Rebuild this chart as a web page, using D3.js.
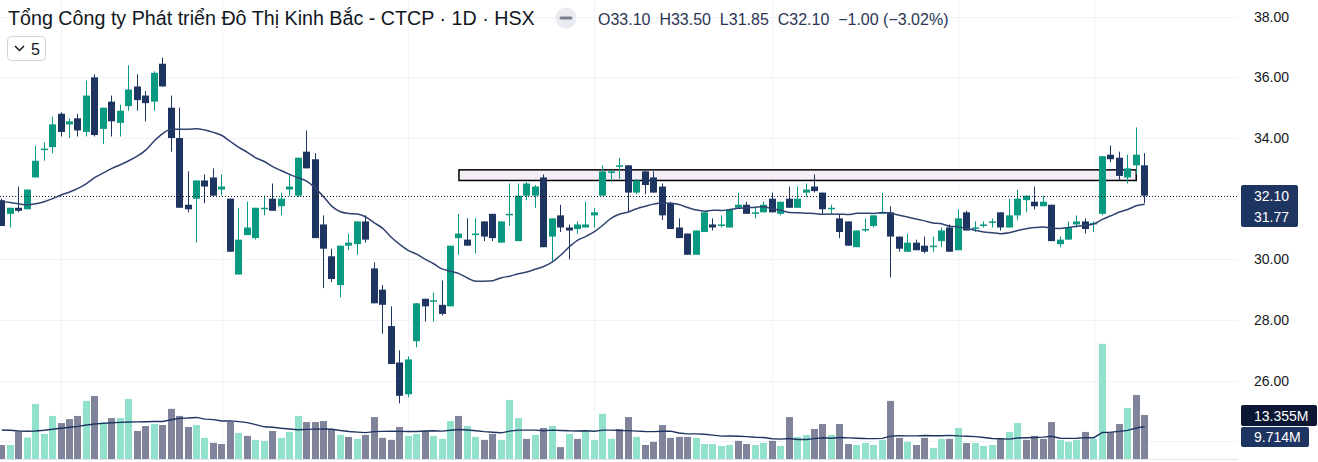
<!DOCTYPE html>
<html>
<head>
<meta charset="utf-8">
<script src="https://cdn.jsdelivr.net/npm/d3@7"></script>
<style>
html, body { margin: 0; padding: 0; background: #fff; overflow: hidden; }
svg { display: block; font-family: "Liberation Sans", Arial, sans-serif; }
</style>
</head>
<body>
<svg id="chart" width="1318" height="462"></svg>
<script>
// daily candles, oldest first (price in thousand VND)
var opens = [31.95,31.5,31.7,31.65,32.7,33.6,33.7,34.8,34.45,34.65,34.2,36.0,34.3,35.2,34.5,35.05,35.7,35.4,35.2,36.45,
  35.0,34.0,31.8,32.0,32.6,32.7,32.3,32.0,29.5,30.8,30.7,31.65,32.0,31.75,32.3,32.1,33.55,33.3,31.15,30.1,
  29.15,30.45,30.5,31.25,29.7,29.0,27.8,26.6,25.55,27.3,28.7,28.6,28.5,28.45,30.7,30.65,30.8,31.25,31.5,30.55,
  31.45,30.6,32.1,32.1,32.7,30.75,31.45,31.05,31.0,31.05,31.45,32.1,32.85,33.05,33.1,32.2,32.9,32.7,32.4,31.85,
  31.05,30.85,30.15,30.9,31.15,31.1,31.05,31.7,31.8,31.5,31.55,32.0,31.5,32.0,31.7,32.2,32.4,32.2,31.65,31.35,
  31.25,30.4,30.95,31.1,31.5,31.55,30.75,30.25,30.55,30.45,30.4,30.6,31.05,30.3,31.55,31.0,31.1,31.2,31.55,31.05,
  31.45,31.95,31.9,31.75,31.8,30.5,30.65,31.15,31.25,31.15,31.5,33.45,33.35,32.7,33.1,33.1];
var highs = [32.0,31.7,32.4,32.3,33.75,33.85,34.7,34.85,34.65,34.8,35.9,36.1,35.0,35.4,35.1,36.4,36.1,35.55,36.2,36.65,
  35.4,35.0,32.9,32.6,32.8,33.0,32.8,32.0,31.7,31.9,31.7,32.1,32.5,32.2,32.8,33.35,34.25,33.5,31.45,30.35,
  30.45,30.85,31.25,31.45,29.9,29.15,28.45,27.0,26.8,28.55,28.7,28.9,29.3,30.45,31.5,31.35,31.35,31.25,31.5,31.25,
  32.5,32.5,32.55,32.45,32.8,31.35,31.8,31.15,31.25,31.9,31.7,33.1,32.95,33.35,33.1,32.65,32.9,32.9,32.5,31.9,
  31.35,30.85,30.95,31.55,31.35,31.45,31.65,32.2,31.9,31.7,31.9,32.2,31.9,32.4,32.4,32.5,32.8,32.2,31.8,31.5,
  31.25,30.95,31.35,31.45,32.2,31.75,30.75,30.85,30.65,30.75,30.75,31.05,31.15,31.65,31.6,31.25,31.25,31.35,31.55,32.0,
  32.3,32.1,32.4,32.1,31.8,30.75,31.25,31.45,31.35,31.25,33.4,33.75,33.55,33.45,34.35,33.5];
var lows = [31.1,31.05,31.55,31.65,32.7,33.25,33.5,34.05,34.0,34.05,34.05,34.05,33.8,34.05,34.05,34.9,34.9,34.55,34.9,35.7,
  33.55,31.7,31.55,30.55,31.85,32.1,32.1,30.25,29.5,30.8,30.65,31.45,31.6,31.45,32.1,32.05,33.0,30.7,29.05,29.25,
  28.75,30.3,30.15,30.55,28.55,27.55,26.55,25.25,25.45,27.1,27.95,27.95,28.15,28.45,30.15,30.45,30.2,30.6,30.6,30.55,
  31.1,30.6,31.95,31.7,30.4,29.95,30.9,30.0,30.85,31.05,31.05,32.1,32.55,32.65,31.55,32.15,32.15,32.2,31.3,31.0,
  30.7,30.15,30.15,30.9,30.95,31.05,31.05,31.7,31.5,31.35,31.55,31.55,31.45,31.7,31.7,32.05,32.2,31.5,31.5,30.7,
  30.45,30.4,30.9,31.05,31.5,29.4,30.25,30.25,30.3,30.2,30.25,30.4,30.25,30.3,30.95,30.9,31.05,31.05,30.95,31.05,
  31.3,31.55,31.65,31.75,30.6,30.4,30.65,31.05,30.85,30.9,31.45,33.2,32.6,32.5,32.8,31.85];
var closes = [31.1,31.7,31.6,32.3,33.25,33.65,34.45,34.2,34.55,34.25,35.4,34.1,35.0,34.55,34.9,35.6,35.25,35.15,36.15,35.7,
  34.0,31.7,31.65,32.6,32.4,32.1,32.4,30.25,30.65,31.05,31.7,31.7,31.6,32.0,32.4,33.35,33.0,30.7,30.35,29.35,
  30.45,30.55,31.25,30.65,28.55,28.5,26.55,25.5,26.7,28.55,28.45,28.65,28.2,30.45,30.85,30.45,30.85,30.75,30.7,31.25,
  31.5,32.1,32.5,32.4,30.4,31.35,31.05,30.95,31.15,31.15,31.55,32.9,32.9,33.1,32.2,32.6,32.45,32.2,31.45,31.0,
  30.7,30.15,30.95,31.55,31.05,31.15,31.65,31.8,31.5,31.55,31.8,31.55,31.9,31.7,32.0,32.3,32.25,31.65,31.7,30.9,
  30.45,30.95,31.0,31.45,31.55,30.75,30.35,30.55,30.3,30.25,30.45,30.95,30.25,31.35,30.95,31.05,31.15,31.25,31.05,31.45,
  32.0,32.1,31.75,31.9,30.6,30.65,31.05,31.25,31.0,31.2,33.4,33.3,32.75,33.0,33.45,32.1];
// volume in millions of shares, and its bar colour (1 = light/up)
var volumes = [4.25,4.25,8.3,6.5,16.7,7.6,13.05,10.9,12.1,13.05,17.6,19.1,11.2,12.4,12.4,18.2,8.5,10.0,10.6,10.3,
  15.2,13.05,9.7,10.3,6.4,4.9,4.55,11.2,7.9,7.0,5.8,5.5,8.5,6.4,8.2,13.05,11.2,11.2,11.5,9.1,
  7.3,6.7,6.1,7.3,12.7,6.4,5.8,9.7,7.0,7.6,8.5,7.0,6.1,11.5,13.05,10.0,6.7,5.8,7.6,5.8,
  17.9,12.4,6.1,7.3,9.4,10.0,3.6,7.6,6.1,8.5,5.8,13.7,6.1,9.1,12.7,6.7,4.25,5.2,10.3,6.4,
  6.7,6.7,6.4,4.55,4.55,3.95,4.25,5.5,4.55,4.25,4.85,5.5,3.95,12.7,6.7,7.3,9.1,10.6,7.3,10.6,
  4.55,4.25,4.85,4.25,5.8,17.6,6.4,5.2,4.25,6.4,3.35,6.1,6.1,9.4,4.85,4.85,3.95,4.25,6.1,8.2,
  10.9,5.8,7.0,6.1,11.2,5.8,5.2,5.8,8.2,6.1,34.9,8.2,10.6,15.5,19.4,13.355];
var volUp = [0,1,0,1,1,1,1,0,0,0,1,0,1,0,1,1,0,0,1,0,
  0,0,0,1,1,0,0,0,1,0,1,1,0,1,1,1,0,0,0,0,
  1,0,1,0,0,0,0,0,1,1,0,1,1,1,0,1,1,0,0,1,
  1,1,0,1,0,1,0,1,0,1,1,1,1,0,0,1,0,0,0,0,
  0,0,1,1,1,1,1,0,0,1,1,0,1,0,1,1,0,0,1,0,
  0,1,1,1,1,0,0,1,0,0,1,1,0,1,0,1,1,1,0,1,
  1,0,0,0,0,1,1,1,0,1,1,0,0,1,0,0];
// MA 20 values before a full window is on screen
var maHead = [31.92,31.87,31.83,31.8,31.83,31.9,32.0,32.12,32.22,32.34,32.5,32.7,32.85,33.0,33.12,33.25,33.4,33.6,33.9];
var volMaHead = [8.8,8.7,8.5,8.4,8.5,8.7,9.0,9.3,9.6,9.9,10.3,10.6,10.8,11.0,11.1,11.2,11.25,11.3,11.35];
// values printed on the scale tags
var maLast = 31.77, volMaLast = 9.714;

var priceTicks = [26, 28, 30, 34, 36, 38];
var gridTicks = [24, 26, 28, 30, 32, 34, 36, 38];
var monthStarts = [7, 26, 48, 70, 91, 113, 129];
var zone = {from: 54, to: 134, lo: 32.6, hi: 32.95};
var title = "Tổng Công ty Phát triển Đô Thị Kinh Bắc - CTCP · 1D · HSX";
var ohlcText = "O33.10  H33.50  L31.85  C32.10  −1.00 (−3.02%)";
var lastPrice = 32.10;

var upCol = "#089981", downCol = "#1f3561";
var volUpCol = "#92e1cc", volDownCol = "#80849a";

var svg = d3.select("#chart");
var W = 1318, H = 462, plotRight = 1238;

var x = d3.scaleLinear().domain([0, closes.length - 1]).range([1.8, 1144.7]);
var y = d3.scaleLinear().domain([24, 38]).range([441.3, 16.7]);
var yv = d3.scaleLinear().domain([0, 40]).range([459, 459 - 40 * 3.3]);

var data = closes.map(function(c, i) {
  return {i: i, o: opens[i], h: highs[i], l: lows[i], c: c, v: volumes[i], vu: volUp[i]};
});
var maPrice = closes.map(function(c, i) {
  return i < 19 ? maHead[i] : d3.mean(closes.slice(i - 19, i + 1));
});
var maVol = volumes.map(function(v, i) {
  return i < 19 ? volMaHead[i] : d3.mean(volumes.slice(i - 19, i + 1));
});

//grid
var grid = svg.append("g");
grid.selectAll("line.h").data(gridTicks).enter().append("line")
  .attr("x1", 0).attr("x2", plotRight)
  .attr("y1", function(d) { return Math.round(y(d)) + 0.5; })
  .attr("y2", function(d) { return Math.round(y(d)) + 0.5; })
  .attr("stroke", "#f0f3fa");
grid.selectAll("line.v").data(monthStarts).enter().append("line")
  .attr("y1", 0).attr("y2", 460)
  .attr("x1", function(d) { return Math.round(x(d)) + 0.5; })
  .attr("x2", function(d) { return Math.round(x(d)) + 0.5; })
  .attr("stroke", "#f0f3fa");

//volume
svg.append("g").selectAll("rect").data(data).enter().append("rect")
  .attr("x", function(d) { return Math.round(x(d.i) - 3.5); })
  .attr("width", 7)
  .attr("y", function(d) { return yv(d.v); })
  .attr("height", function(d) { return yv(0) - yv(d.v); })
  .attr("fill", function(d) { return d.vu ? volUpCol : volDownCol; });

svg.append("path")
  .datum(maVol)
  .attr("d", d3.line().x(function(d, i) { return x(i); }).y(function(d) { return yv(d); }))
  .attr("fill", "none").attr("stroke", "#1f3561").attr("stroke-width", 1.4);

// zone box
svg.append("rect")
  .attr("x", x(zone.from)).attr("width", x(zone.to) - x(zone.from))
  .attr("y", y(zone.hi)).attr("height", y(zone.lo) - y(zone.hi))
  .attr("fill", "#f5eef7").attr("stroke", "#000").attr("stroke-width", 1.5);

//candles
var cg = svg.append("g").selectAll("g").data(data).enter().append("g")
  .attr("fill", function(d) { return d.c >= d.o ? upCol : downCol; })
  .attr("stroke", function(d) { return d.c >= d.o ? upCol : downCol; });
cg.append("line")
  .attr("x1", function(d) { return Math.round(x(d.i) - 3.5) + 3.5; })
  .attr("x2", function(d) { return Math.round(x(d.i) - 3.5) + 3.5; })
  .attr("y1", function(d) { return y(d.h); })
  .attr("y2", function(d) { return y(d.l); });
cg.append("rect")
  .attr("stroke", "none")
  .attr("x", function(d) { return Math.round(x(d.i) - 3.5); })
  .attr("width", 7)
  .attr("y", function(d) { return y(Math.max(d.o, d.c)); })
  .attr("height", function(d) { return Math.max(1.5, Math.abs(y(d.o) - y(d.c))); });

svg.append("path")
  .datum(maPrice)
  .attr("d", d3.line().curve(d3.curveMonotoneX).x(function(d, i) { return x(i); }).y(function(d) { return y(d); }))
  .attr("fill", "none").attr("stroke", "#2f4270").attr("stroke-width", 1.5);

// last price line
svg.append("line")
  .attr("x1", 0).attr("x2", plotRight)
  .attr("y1", Math.round(y(lastPrice)) + 0.5).attr("y2", Math.round(y(lastPrice)) + 0.5)
  .attr("stroke", "#131722").attr("stroke-dasharray", "1,2");

// bottom border
svg.append("line").attr("x1", 0).attr("x2", plotRight).attr("y1", 459.5).attr("y2", 459.5)
  .attr("stroke", "#e0e3eb");

// price axis labels
svg.append("g").selectAll("text").data(priceTicks).enter().append("text")
  .attr("x", 1254).attr("y", function(d) { return y(d); })
  .attr("dy", "0.35em").attr("font-size", 14).attr("fill", "#131722")
  .text(function(d) { return d3.format(".2f")(d); });

function tag(yTop, h, w, fill, label) {
  svg.append("rect").attr("x", 1241).attr("y", yTop).attr("width", w).attr("height", h)
    .attr("rx", 2).attr("fill", fill);
  svg.append("text").attr("x", 1254).attr("y", yTop + h / 2).attr("dy", "0.36em")
    .attr("font-size", 14).attr("fill", "#fff").text(label);
}
svg.append("rect").attr("x", 1241).attr("y", 185).attr("width", 57).attr("height", 42)
  .attr("rx", 2).attr("fill", "#1f3561");
svg.append("text").attr("x", 1254).attr("y", 195.5).attr("dy", "0.36em")
  .attr("font-size", 14).attr("fill", "#fff").text(d3.format(".2f")(lastPrice));
svg.append("text").attr("x", 1254).attr("y", 216.5).attr("dy", "0.36em")
  .attr("font-size", 14).attr("fill", "#fff").text(d3.format(".2f")(maLast));
tag(405, 21, 76, "#0c1734", d3.format(".3f")(volumes[volumes.length - 1]) + "M");
tag(427, 20, 68, "#1f3561", d3.format(".3f")(volMaLast) + "M");

// header
svg.append("text").attr("x", 8).attr("y", 25).attr("font-size", 19.7).attr("fill", "#131722").text(title);
svg.append("circle").attr("cx", 566).attr("cy", 18).attr("r", 10.5).attr("fill", "#e9ebf0");
svg.append("line").attr("x1", 561).attr("x2", 571).attr("y1", 18).attr("y2", 18)
  .attr("stroke", "#7b7f8c").attr("stroke-width", 3).attr("stroke-linecap", "round");
svg.append("text").attr("x", 598).attr("y", 25).attr("font-size", 16).attr("fill", "#2a3553")
  .attr("xml:space", "preserve").style("white-space", "pre").text(ohlcText);

var btn = svg.append("g");
btn.append("rect").attr("x", 7.5).attr("y", 36.5).attr("width", 38).attr("height", 24).attr("rx", 4)
  .attr("fill", "#fff").attr("stroke", "#d1d4dc");
btn.append("path").attr("d", "M15,46 L19.5,50.5 L24,46").attr("fill", "none")
  .attr("stroke", "#131722").attr("stroke-width", 1.5);
btn.append("text").attr("x", 31).attr("y", 54.5).attr("font-size", 16).attr("fill", "#131722").text("5");
</script>
</body>
</html>
